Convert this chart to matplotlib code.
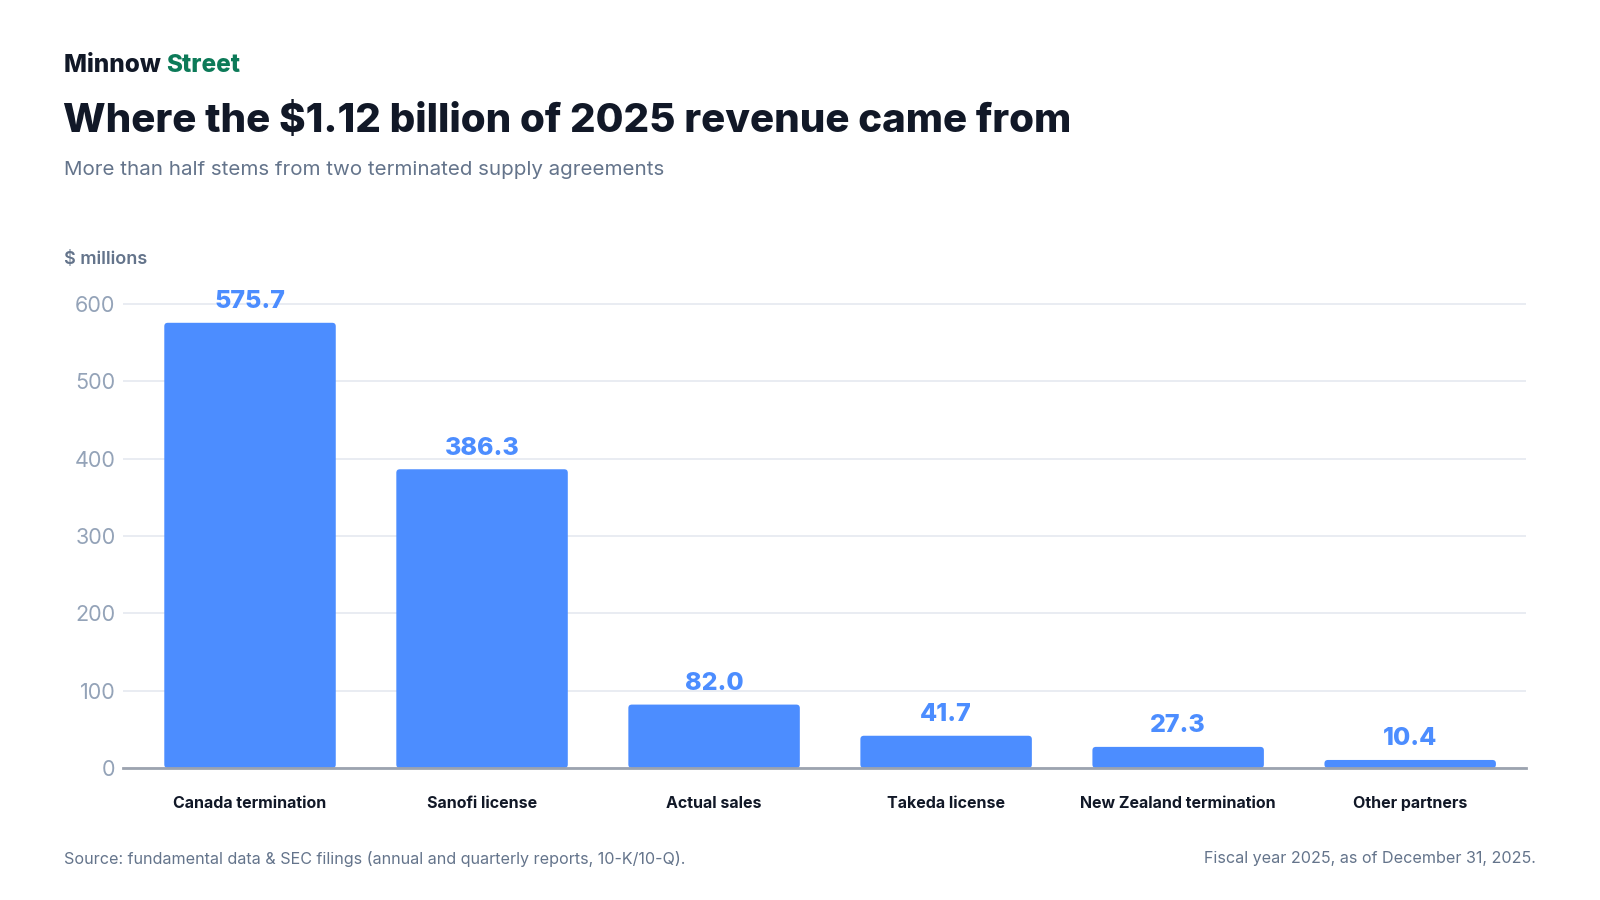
import matplotlib
matplotlib.use("Agg")
import matplotlib.pyplot as plt
from matplotlib.patches import FancyBboxPatch

categories = ["Canada termination", "Sanofi license", "Actual sales",
              "Takeda license", "New Zealand termination", "Other partners"]
values = [575.7, 386.3, 82.0, 41.7, 27.3, 10.4]
yticks = [0, 100, 200, 300, 400, 500, 600]

BLUE = "#4c8dff"
DARK = "#111827"
GRAY = "#64748b"
LIGHT = "#94a3b8"
GREEN = "#0c7a58"

plt.rcParams['font.family'] = ['Inter', 'DejaVu Sans']

W, H = 1600, 900
fig = plt.figure(figsize=(16, 9), dpi=100)
fig.patch.set_facecolor("white")

def fx(px):
    return px / W

def fy(py):
    return 1 - py / H

# axes placement
ax_left, ax_right = 122.5, 1525.5
y0_px = 768
ppu = (768 - 304) / 600.0
ytop = 625
ax_top = y0_px - ytop * ppu
ax = fig.add_axes([fx(ax_left), fy(y0_px), fx(ax_right - ax_left), (y0_px - ax_top) / H])

xmin, xmax = -0.5496, 5.497
xs = list(range(len(categories)))
bw = 0.739
ax.set_xlim(xmin, xmax)
ax.set_ylim(0, ytop)

px_per_x = (ax_right - ax_left) / (xmax - xmin)
aspect = (1.0 / ppu) / (1.0 / px_per_x)
bars = ax.bar(xs, values, width=bw, color=BLUE, zorder=3)
for b in bars:
    b.set_visible(False)
    p = FancyBboxPatch((b.get_x(), b.get_y()), b.get_width(), b.get_height(),
                       boxstyle="round,pad=0,rounding_size=%f" % (3.5 / px_per_x),
                       mutation_aspect=aspect,
                       facecolor=BLUE, edgecolor="none", zorder=3)
    ax.add_patch(p)

ax.set_yticks(yticks)
ax.set_yticklabels([str(v) for v in yticks])
ax.set_xticks(xs)
ax.set_xticklabels(categories)
for lab in ax.get_xticklabels():
    lab.set_fontweight("bold")
    lab.set_color(DARK)
    lab.set_fontsize(11.5)
for lab in ax.get_yticklabels():
    lab.set_color(LIGHT)
    lab.set_fontsize(15.5)
ax.tick_params(axis="x", length=0, pad=20)
ax.tick_params(axis="y", length=0, pad=5)
ax.grid(axis="y", color="#e5e9f0", linewidth=1.2, zorder=0)
for s in ["top", "right", "left"]:
    ax.spines[s].set_visible(False)
ax.spines["bottom"].set_color("#9ca3af")
ax.spines["bottom"].set_linewidth(2)
ax.spines["bottom"].set_zorder(4)
ax.set_facecolor("white")

for x, v in zip(xs, values):
    ax.annotate(f"{v:.1f}", (x, v), xytext=(0, 7), textcoords="offset points",
                ha="center", va="bottom", color=BLUE, fontsize=18, fontweight="heavy")

# header
t1 = fig.text(fx(64), fy(65.5), "Minnow ", fontsize=17.5, fontweight="heavy", color=DARK,
              va="center", ha="left")
fig.canvas.draw()
bb = t1.get_window_extent()
fig.text(bb.x1 / W, fy(65.5), "Street", fontsize=17.5, fontweight="heavy", color=GREEN,
         va="center", ha="left")

fig.text(fx(63), fy(122), "Where the $1.12 billion of 2025 revenue came from",
         fontsize=29, fontweight="heavy", color=DARK, va="center", ha="left")
fig.text(fx(64), fy(170), "More than half stems from two terminated supply agreements",
         fontsize=14.8, color=GRAY, va="center", ha="left")
fig.text(fx(64), fy(260), "$ millions", fontsize=13, fontweight="semibold", color=GRAY,
         va="center", ha="left")

fig.text(fx(64), fy(859), "Source: fundamental data & SEC filings (annual and quarterly reports, 10-K/10-Q).",
         fontsize=11.6, color=GRAY, va="center", ha="left")
fig.text(fx(1536), fy(859), "Fiscal year 2025, as of December 31, 2025.",
         fontsize=11.6, color=GRAY, va="center", ha="right")

fig.savefig("out.png", dpi=100, facecolor="white")
